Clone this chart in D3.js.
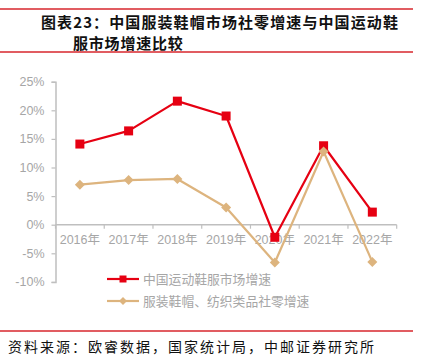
<!DOCTYPE html>
<html><head><meta charset="utf-8">
<script src="https://cdn.jsdelivr.net/npm/d3@7"></script>
<style>body{margin:0;background:#fff}svg{display:block}</style>
</head><body>
<script>
const categories = ["2016年","2017年","2018年","2019年","2020年","2021年","2022年"];
const sportsGrowth = [14.1, 16.4, 21.6, 19.0, -2.2, 13.8, 2.2];
const apparelRetailGrowth = [7.0, 7.8, 8.0, 3.0, -6.6, 12.8, -6.5];
const yTicks = [-10, -5, 0, 5, 10, 15, 20, 25];
const seriesNames = ["中国运动鞋服市场增速", "服装鞋帽、纺织类品社零增速"];
const titleLines = ["图表23：中国服装鞋帽市场社零增速与中国运动鞋", "服市场增速比较"];
const sourceText = "资料来源：欧睿数据，国家统计局，中邮证券研究所";

const W = 421, H = 355;
const svg = d3.select("body").append("svg").attr("width", W).attr("height", H);
const RED = "#e60012", TAN = "#ddb47e", AXIS = "#bfbfbf", LABEL = "#a6a6a6";
const cjk = "'Noto Sans CJK SC', sans-serif";
const latin = "'Liberation Sans', Arial, 'Noto Sans CJK SC', sans-serif";

// frame lines
[9, 52, 331].forEach(y => svg.append("line").attr("x1", 0).attr("x2", 413)
  .attr("y1", y).attr("y2", y).attr("stroke", "#d7262d").attr("stroke-width", 1.3));

svg.append("text").attr("x", 41).attr("y", 28).text(titleLines[0])
  .attr("font-family", cjk).attr("font-weight", "bold").attr("font-size", 15)
  .attr("letter-spacing", 1.1).attr("fill", "#111");
svg.append("text").attr("x", 73).attr("y", 49).text(titleLines[1])
  .attr("font-family", cjk).attr("font-weight", "bold").attr("font-size", 15)
  .attr("letter-spacing", 0.8).attr("fill", "#111");
svg.append("text").attr("x", 8).attr("y", 352).text(sourceText)
  .attr("font-family", cjk).attr("font-size", 14)
  .attr("letter-spacing", 2).attr("fill", "#111");

const x = d3.scaleBand().domain(categories).range([55.5, 396.7]);
const y = d3.scaleLinear().domain([-10, 25]).range([281.9, 81.7]);

// y axis
const yAxis = svg.append("g").attr("transform", "translate(55.5,0)")
  .call(d3.axisLeft(y).tickValues(yTicks).tickFormat(d => d + "%").tickSize(4).tickPadding(7));
yAxis.select(".domain").attr("stroke", AXIS).attr("stroke-width", 1.5);
yAxis.selectAll(".tick line").attr("stroke", AXIS).attr("stroke-width", 1.2);
yAxis.selectAll("text").attr("fill", LABEL).attr("font-family", latin).attr("font-size", 12.5);

// x axis at 0
const xAxisG = svg.append("g").attr("transform", `translate(0,${y(0)})`);
xAxisG.append("line").attr("x1", x.range()[0]).attr("x2", x.range()[1])
  .attr("stroke", AXIS).attr("stroke-width", 1.5);
const bounds = categories.map(c => x(c)).concat([x.range()[1]]);
xAxisG.selectAll("line.tk").data(bounds).join("line").attr("class", "tk")
  .attr("x1", d => d).attr("x2", d => d).attr("y1", 0).attr("y2", 4)
  .attr("stroke", AXIS).attr("stroke-width", 1.2);
xAxisG.selectAll("text").data(categories).join("text")
  .attr("x", d => x(d) + x.bandwidth() / 2).attr("y", 19)
  .attr("text-anchor", "middle").attr("fill", LABEL)
  .attr("font-family", latin).attr("font-size", 12.5).text(d => d);

const cx = d => x(d) + x.bandwidth() / 2;
const line = d3.line().x(d => cx(d[0])).y(d => y(d[1]));

// red series
const redPts = categories.map((c, i) => [c, sportsGrowth[i]]);
svg.append("path").attr("d", line(redPts)).attr("fill", "none")
  .attr("stroke", RED).attr("stroke-width", 2.2).attr("stroke-linejoin", "round");
svg.selectAll("rect.m").data(redPts).join("rect").attr("class", "m")
  .attr("x", d => cx(d[0]) - 4.5).attr("y", d => y(d[1]) - 4.5)
  .attr("width", 9).attr("height", 9).attr("fill", RED);

// tan series
const tanPts = categories.map((c, i) => [c, apparelRetailGrowth[i]]);
svg.append("path").attr("d", line(tanPts)).attr("fill", "none")
  .attr("stroke", TAN).attr("stroke-width", 2.2).attr("stroke-linejoin", "round");
const diamond = (px, py, r) => `M${px},${py - r}L${px + r},${py}L${px},${py + r}L${px - r},${py}Z`;
svg.selectAll("path.d").data(tanPts).join("path").attr("class", "d")
  .attr("d", d => diamond(cx(d[0]), y(d[1]), 5)).attr("fill", TAN);

// legend
const legY = [279, 301];
const legColors = [RED, TAN];
seriesNames.forEach((name, i) => {
  const g = svg.append("g");
  g.append("line").attr("x1", 107).attr("x2", 139).attr("y1", legY[i]).attr("y2", legY[i])
    .attr("stroke", legColors[i]).attr("stroke-width", 2.2);
  if (i === 0) g.append("rect").attr("x", 119.5).attr("y", legY[i] - 3.5).attr("width", 7).attr("height", 7).attr("fill", RED);
  else g.append("path").attr("d", diamond(123, legY[i], 4)).attr("fill", TAN);
  g.append("text").attr("x", 143).attr("y", legY[i]).attr("dy", "0.36em")
    .attr("font-family", cjk).attr("font-size", 12.8).attr("fill", LABEL).text(name);
});
</script>
</body></html>
